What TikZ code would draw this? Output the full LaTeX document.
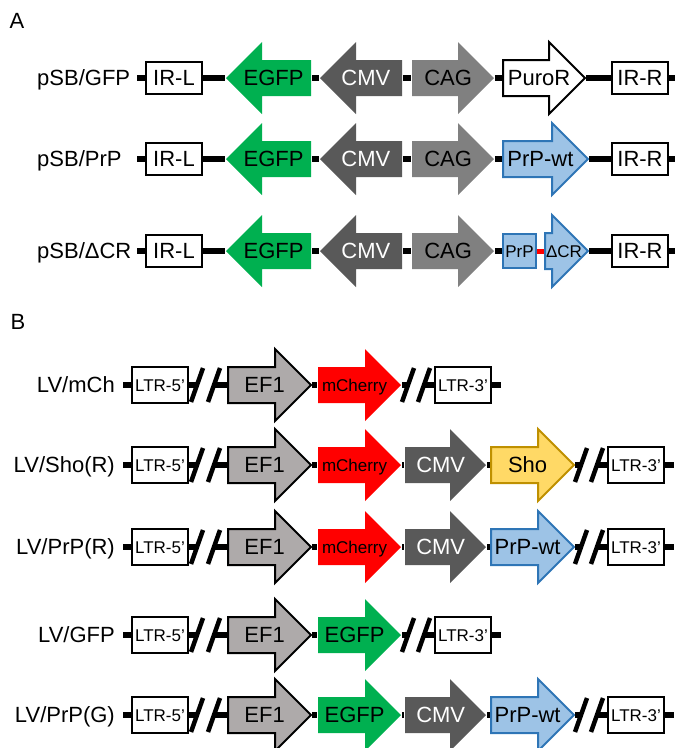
\documentclass[tikz,border=0pt]{standalone}
\usepackage{fontspec}
\setmainfont{Liberation Sans}
\usetikzlibrary{shapes.arrows,calc}

\definecolor{gfpgreen}{HTML}{00B050}
\definecolor{cmvgray}{HTML}{595959}
\definecolor{caggray}{HTML}{808080}
\definecolor{efgray}{HTML}{AEAAAA}
\definecolor{prpfill}{HTML}{9DC3E6}
\definecolor{prpline}{HTML}{2E75B6}
\definecolor{shofill}{HTML}{FFD966}
\definecolor{sholine}{HTML}{BF9000}

\tikzset{
  bigtxt/.style={font=\fontsize{22}{26}\selectfont,text height=15.8pt,text depth=0pt,inner sep=0pt},
  smalltxt/.style={font=\fontsize{17}{20}\selectfont,text height=12.2pt,text depth=0pt,inner sep=0pt},
  dna/.style={line width=6pt},
  brk/.style={line width=4.5pt},
  part/.style={rectangle,draw,line width=2pt,fill=white,minimum width=56pt},
  irbox/.style={part,bigtxt,minimum height=32pt},
  ltrbox/.style={part,smalltxt,minimum height=36pt},
  prpbox/.style={rectangle,draw=prpline,fill=prpfill,line width=2pt,smalltxt,minimum width=33pt,minimum height=34pt},
  gene/.style={single arrow,single arrow head extend=18pt,inner xsep=0pt,inner ysep=17pt,
    minimum height=#1,line width=2pt,anchor=tail},
  pointleft/.style={shape border rotate=180},
  gfp/.style={fill=gfpgreen},
  cmv/.style={fill=cmvgray},
  cag/.style={fill=caggray},
  puro/.style={draw=black,fill=white},
  prp/.style={draw=prpline,fill=prpfill},
  ef/.style={draw=black,fill=efgray},
  mch/.style={fill=red},
  sho/.style={draw=sholine,fill=shofill}
}

\begin{document}
\begin{tikzpicture}[x=1pt,y=-1pt]
  \useasboundingbox (0,0) rectangle (677,748);
  %pannelli
  \node[bigtxt] (panA) at (17,21) {A};
  \node[bigtxt] (panB) at (18,322) {B};
  %pSB: parte comune
  \foreach \r/\y/\lab in {1/78/{pSB/GFP},2/159/{pSB/PrP},3/251/{pSB/ΔCR}} {
    \node[bigtxt,anchor=west] (nA\r) at (37,\y) {\lab};
    \coordinate (sA\r) at (137,\y);
    \coordinate (eA\r) at (675,\y);
    \node[irbox] (irlA\r) at (174,\y) {IR-L};
    \node[irbox] (irrA\r) at (640,\y) {IR-R};
    \node[gene=85pt,gfp,pointleft] (egfpA\r) at (312,\y) {};
    \node[gene=82pt,cmv,pointleft] (cmvA\r) at (403,\y) {};
    \node[gene=82pt,cag] (cagA\r) at (411,\y) {};
    \node[bigtxt] (egfpTxtA\r) at ($(egfpA\r.tail)!.44!(egfpA\r.tip)$) {EGFP};
    \node[bigtxt,white] (cmvTxtA\r) at ($(cmvA\r.tail)!.44!(cmvA\r.tip)$) {CMV};
    \node[bigtxt] (cagTxtA\r) at ($(cagA\r.tail)!.44!(cagA\r.tip)$) {CAG};
    \draw[dna] (sA\r) -- (irlA\r.west) (irlA\r.east) -- (egfpA\r.tip)
      (egfpA\r.tail) -- (cmvA\r.tip) (cmvA\r.tail) -- (cagA\r.tail) (irrA\r.east) -- (eA\r);
  }
  %pSB/GFP
  \node[gene=82pt,puro] (puroA1) at (502,78) {};
  \node[bigtxt] (puroTxtA1) at ($(puroA1.tail)!.44!(puroA1.tip)$) {PuroR};
  \draw[dna] (cagA1.tip) -- (puroA1.tail) (puroA1.tip) -- (irrA1.west);
  %pSB/PrP
  \node[gene=85pt,prp] (prpA2) at (502,159) {};
  \node[bigtxt] (prpTxtA2) at ($(prpA2.tail)!.44!(prpA2.tip)$) {PrP-wt};
  \draw[dna] (cagA2.tip) -- (prpA2.tail) (prpA2.tip) -- (irrA2.west);
  %pSB/dCR
  \node[prpbox] (prpA3) at (519.5,251) {PrP};
  \node[gene=43pt,prp] (dcrA3) at (544,251) {};
  \node[smalltxt] (dcrTxtA3) at ($(dcrA3.tail)!.44!(dcrA3.tip)$) {ΔCR};
  \draw[dna] (cagA3.tip) -- (prpA3.west) (dcrA3.tip) -- (irrA3.west);
  \draw[dna,red,line width=5pt] (prpA3.east) -- (dcrA3.tail);

  %LV: parte comune
  \foreach \r/\y/\lab/\gs/\gt/\ts in {1/385/{LV/mCh}/mch/mCherry/smalltxt,
      2/465/{LV/Sho(R)}/mch/mCherry/smalltxt,3/547/{LV/PrP(R)}/mch/mCherry/smalltxt,
      4/635/{LV/GFP}/gfp/EGFP/bigtxt,5/715/{LV/PrP(G)}/gfp/EGFP/bigtxt} {
    \node[bigtxt,anchor=east] (nB\r) at (115,\y) {\lab};
    \coordinate (sB\r) at (123,\y);
    \coordinate (kB\r) at (197,\y);
    \coordinate (lB\r) at (214,\y);
    \node[ltrbox] (ltr5B\r) at (160,\y) {LTR-5’};
    \node[gene=83pt,ef] (efB\r) at (227,\y) {};
    \node[gene=83pt,\gs] (g2B\r) at (317,\y) {};
    \node[bigtxt] (efTxtB\r) at ($(efB\r.tail)!.44!(efB\r.tip)$) {EF1};
    \node[\ts] (g2TxtB\r) at ($(g2B\r.tail)!.44!(g2B\r.tip)$) {\gt};
    \draw[dna] (sB\r) -- (ltr5B\r.west) (ltr5B\r.east) -- (kB\r)
      (lB\r) -- (efB\r.tail) (efB\r.tip) -- (g2B\r.tail);
    \draw[brk] ($(kB\r)+(6,-17)$) -- ($(kB\r)+(-6,17)$)
      ($(lB\r)+(6,-17)$) -- ($(lB\r)+(-6,17)$);
  }
  %CMV
  \foreach \r/\y in {2/465,3/547,5/715} {
    \node[gene=81pt,cmv] (cmvB\r) at (404,\y) {};
    \node[bigtxt,white] (cmvTxtB\r) at ($(cmvB\r.tail)!.44!(cmvB\r.tip)$) {CMV};
    \draw[dna] (g2B\r.tip) -- (cmvB\r.tail);
  }
  \node[gene=83pt,sho] (shoB2) at (490,465) {};
  \node[bigtxt] (shoTxtB2) at ($(shoB2.tail)!.44!(shoB2.tip)$) {Sho};
  \node[gene=83pt,prp] (prpB3) at (490,547) {};
  \node[bigtxt] (prpTxtB3) at ($(prpB3.tail)!.44!(prpB3.tip)$) {PrP-wt};
  \node[gene=83pt,prp] (prpB5) at (490,715) {};
  \node[bigtxt] (prpTxtB5) at ($(prpB5.tail)!.44!(prpB5.tip)$) {PrP-wt};
  \draw[dna] (cmvB2.tip) -- (shoB2.tail) (cmvB3.tip) -- (prpB3.tail) (cmvB5.tip) -- (prpB5.tail);
  %LTR-3'
  \foreach \r/\y/\k/\last in {1/385/408/g2B1,4/635/408/g2B4,2/465/581/shoB2,3/547/581/prpB3,5/715/581/prpB5} {
    \coordinate (mB\r) at (\k,\y);
    \coordinate (oB\r) at (\k+16,\y);
    \coordinate (eB\r) at (\k+93,\y);
    \node[ltrbox] (ltr3B\r) at (\k+55,\y) {LTR-3’};
    \draw[dna] (\last.tip) -- (mB\r) (oB\r) -- (ltr3B\r.west) (ltr3B\r.east) -- (eB\r);
    \draw[brk] ($(mB\r)+(6,-17)$) -- ($(mB\r)+(-6,17)$)
      ($(oB\r)+(6,-17)$) -- ($(oB\r)+(-6,17)$);
  }
\end{tikzpicture}
\end{document}
